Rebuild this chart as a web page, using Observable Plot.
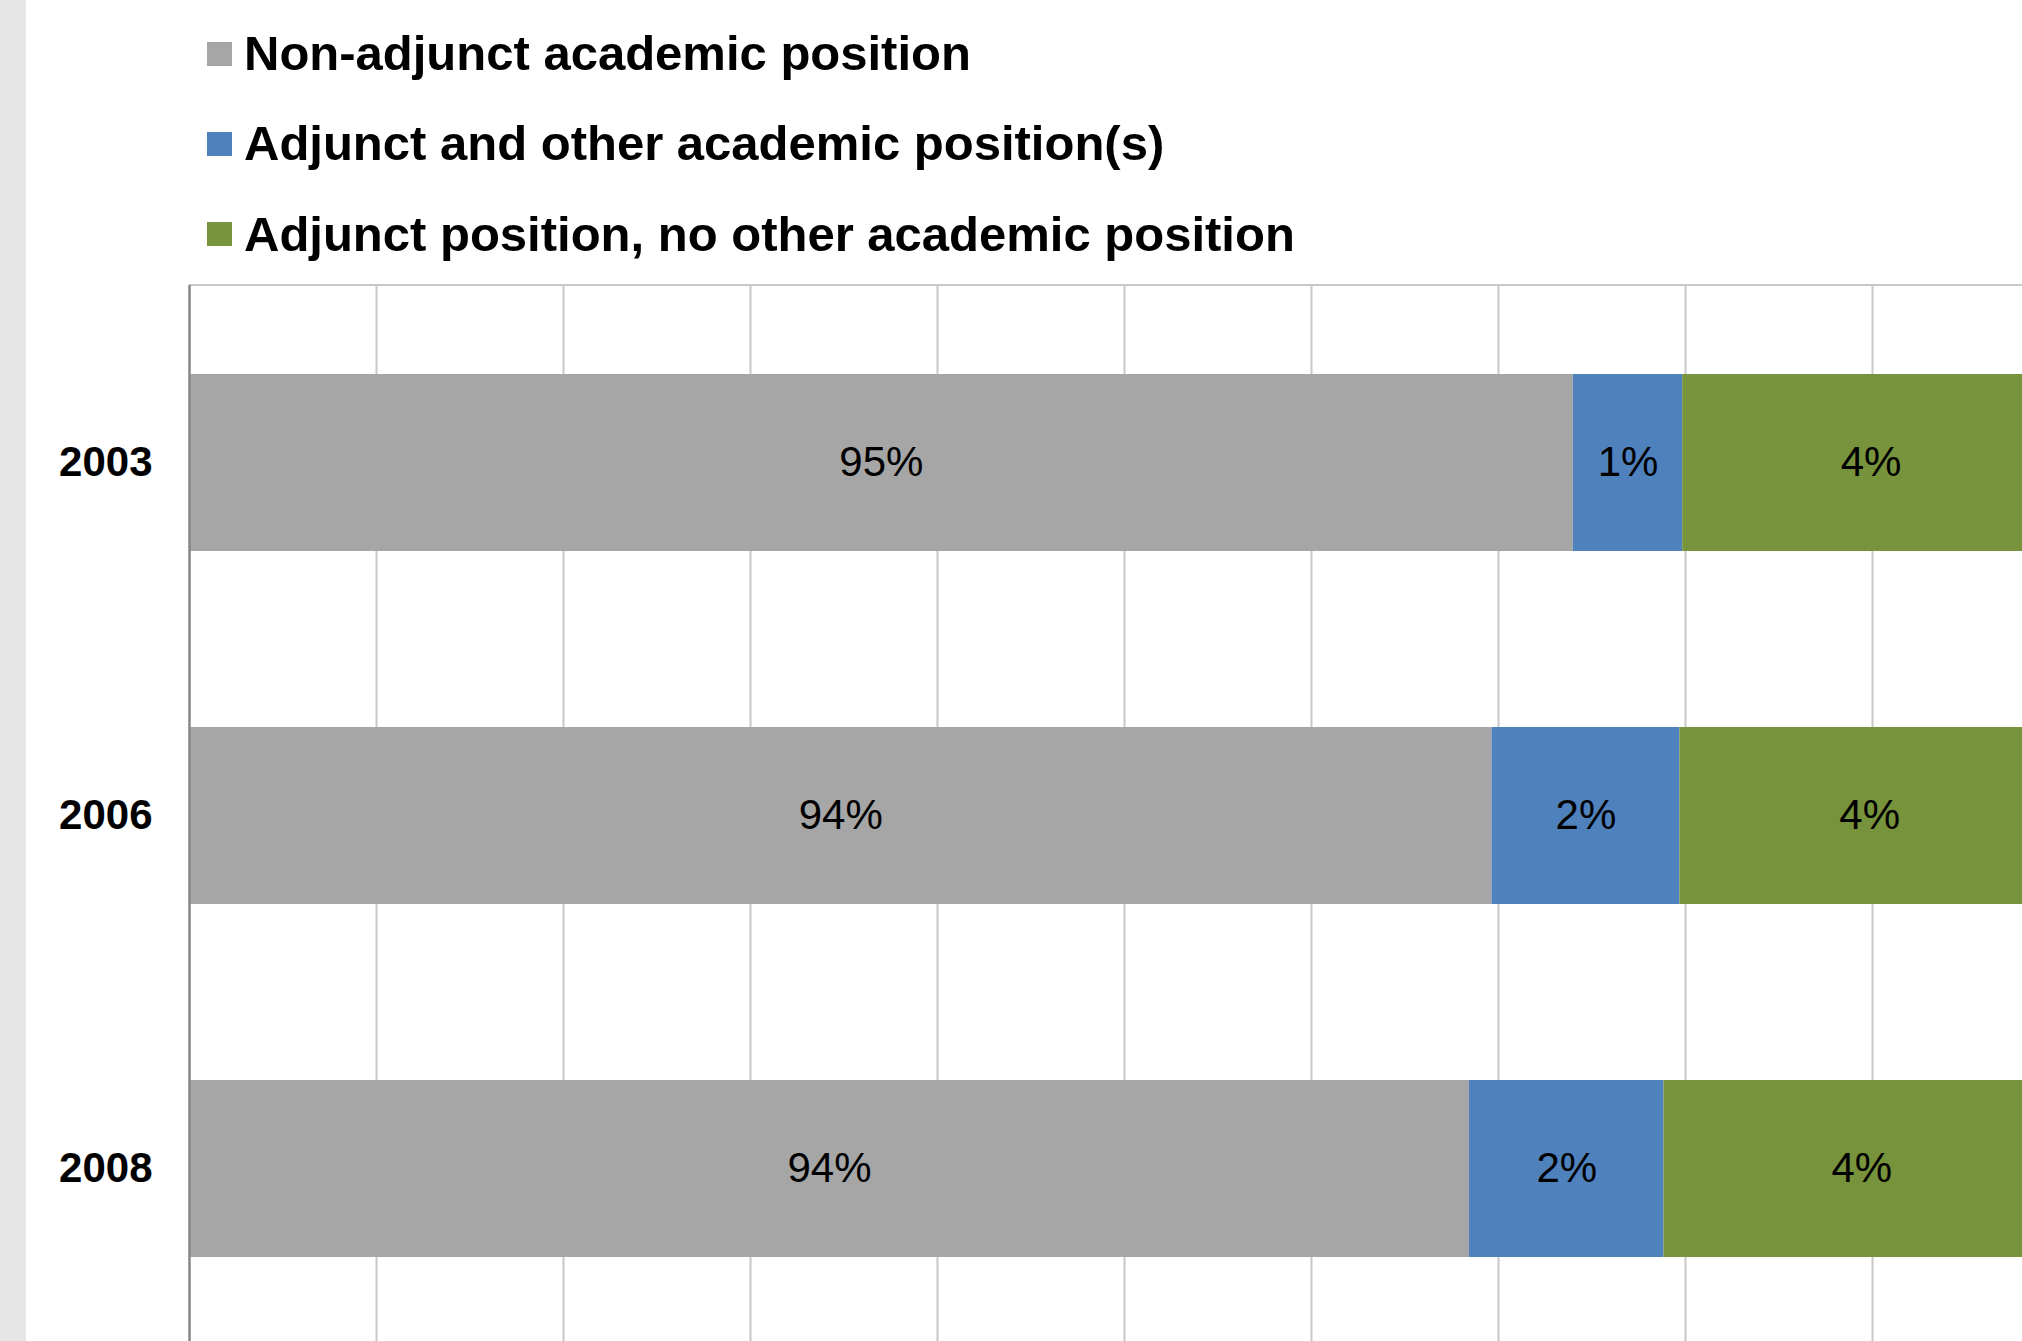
<!DOCTYPE html>
<html>
<head>
<meta charset="utf-8">
<script src="https://cdn.jsdelivr.net/npm/d3@7"></script>
<script src="https://cdn.jsdelivr.net/npm/@observablehq/plot@0.6"></script>
<style>
  html, body { margin: 0; padding: 0; background: #fff; width: 2022px; height: 1341px; overflow: hidden; }
  body { position: relative; font-family: "Liberation Sans", Arial, sans-serif; }
  #strip { position: absolute; left: 0; top: 0; width: 26px; height: 1341px; background: #e6e6e6; z-index: 2; }
  #legend { position: relative; height: 270px; }
  .row { position: absolute; left: 207px; display: flex; align-items: center; height: 90px; }
  .sw { width: 25px; height: 24px; margin-right: 12px; flex: none; }
  .lab { font-weight: bold; font-size: 49px; line-height: 49px; color: #000; white-space: nowrap; }
  #chart svg { display: block; overflow: hidden; }
</style>
</head>
<body>
<div id="strip"></div>
<div id="legend"></div>
<div id="chart"></div>
<script>
// ---- data ----
const years = ["2003", "2006", "2008"];
const categories = [
  "Non-adjunct academic position",
  "Adjunct and other academic position(s)",
  "Adjunct position, no other academic position"
];
const colors = ["#a6a6a6", "#4f81bd", "#77933c"];
const nonAdjunct   = [94.80, 93.93, 93.69];
const adjunctOther = [1.17, 2.01, 2.08];
const adjunctOnly  = [4.03, 4.06, 4.23];
const xDomain = [80, 100];
const xTicks = [80, 82, 84, 86, 88, 90, 92, 94, 96, 98, 100];

const series = [nonAdjunct, adjunctOther, adjunctOnly];

// long table for the stacked bars
const rows = [];
years.forEach((yr, i) => {
  series.forEach((s, j) => rows.push({year: yr, category: categories[j], value: s[i]}));
});

// labels centred in the visible part of each segment
const labels = [];
years.forEach((yr, i) => {
  let acc = 0;
  series.forEach((s, j) => {
    const x1 = acc, x2 = acc + s[i];
    acc = x2;
    labels.push({year: yr, x: (Math.max(x1, xDomain[0]) + x2) / 2, text: Math.round(s[i]) + "%"});
  });
});

// ---- legend ----
const legend = document.getElementById("legend");
categories.forEach((c, j) => {
  const row = document.createElement("div");
  row.className = "row";
  row.style.top = (8.5 + j * 90.3) + "px";
  const sw = document.createElement("div");
  sw.className = "sw";
  sw.style.background = colors[j];
  const lab = document.createElement("div");
  lab.className = "lab";
  lab.textContent = c;
  row.appendChild(sw);
  row.appendChild(lab);
  legend.appendChild(row);
});

// ---- chart ----
const topLine = (index, scales, values, dims) => {
  const l = document.createElementNS("http://www.w3.org/2000/svg", "line");
  l.setAttribute("x1", dims.marginLeft);
  l.setAttribute("x2", dims.width);
  l.setAttribute("y1", dims.marginTop);
  l.setAttribute("y2", dims.marginTop);
  l.setAttribute("stroke", "#c8c8c8");
  l.setAttribute("stroke-width", 2);
  return l;
};

const chart = Plot.plot({
  width: 2022,
  height: 1071,
  marginTop: 15,
  marginBottom: 0,
  marginLeft: 189,
  marginRight: 0,
  style: {fontFamily: '"Liberation Sans", Arial, sans-serif', fontSize: "42px", fontWeight: "bold", color: "#000", background: "white"},
  x: {domain: xDomain, range: [189, 2059], axis: null},
  y: {domain: years, range: [15, 1075], paddingInner: 0.5, paddingOuter: 0.25, label: null, tickSize: 0, tickPadding: 37},
  color: {domain: categories, range: colors},
  marks: [
    Plot.ruleX(xTicks.slice(1), {stroke: "#c8c8c8", strokeWidth: 2}),
    topLine,
    Plot.barX(rows, Plot.stackX({x: "value", y: "year", fill: "category", order: categories, clip: true})),
    Plot.ruleX([xDomain[0]], {stroke: "#878787", strokeWidth: 2.5}),
    Plot.text(labels, {x: "x", y: "year", text: "text", fontSize: 42, fontWeight: "normal", fill: "#000"})
  ]
});
document.getElementById("chart").appendChild(chart);
</script>
</body>
</html>
